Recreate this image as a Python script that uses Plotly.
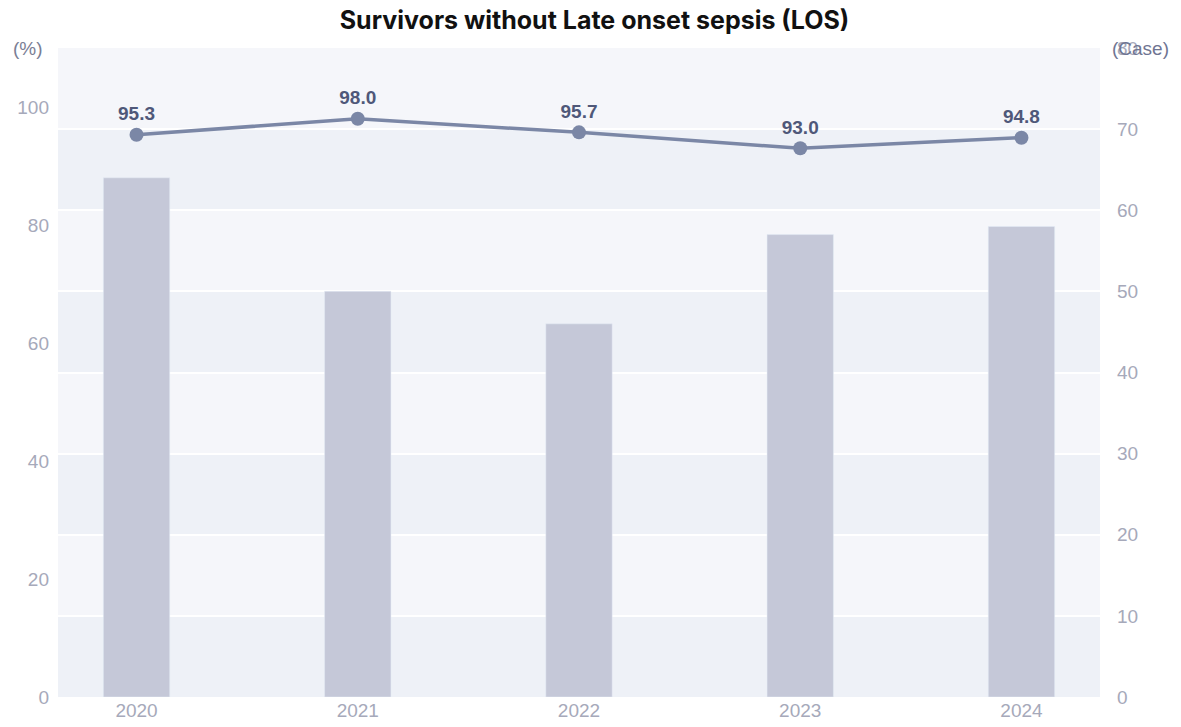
import plotly.graph_objects as go

years = ["2020", "2021", "2022", "2023", "2024"]
cases = [64, 50, 46, 57, 58]
survival_pct = [95.3, 98.0, 95.7, 93.0, 94.8]
pct_ticks = [0, 20, 40, 60, 80, 100]
case_ticks = [0, 10, 20, 30, 40, 50, 60, 70, 80]

fig = go.Figure()

# alternating background bands on the case axis
for i in range(len(case_ticks) - 1):
    fig.add_shape(
        type="rect", xref="paper", yref="y2",
        x0=0, x1=1, y0=case_ticks[i], y1=case_ticks[i + 1],
        fillcolor="#eef1f7" if i % 2 == 0 else "#f5f6fa",
        line_width=0, layer="below",
    )

fig.add_trace(go.Bar(
    x=years, y=cases, yaxis="y2",
    marker_color="#c5c8d8", width=0.3,
    hoverinfo="y",
))

fig.add_trace(go.Scatter(
    x=years, y=survival_pct, yaxis="y",
    mode="lines+markers+text",
    line=dict(color="#7b87a6", width=3.5),
    marker=dict(size=14, color="#7b87a6"),
    text=[f"{v:.1f}" for v in survival_pct],
    textposition="top center",
    textfont=dict(size=19, color="#4f5879", family="Liberation Sans"),
    texttemplate="<b>%{text}</b>",
))

# page body adds 8px offset, so figure is sized/margined to compensate
fig.update_layout(
    width=1173, height=719,
    margin=dict(l=50, r=81, t=40, b=30),
    paper_bgcolor="white", plot_bgcolor="rgba(0,0,0,0)",
    showlegend=False,
    font=dict(family="Liberation Sans", color="#a6a9ba", size=19),
    title=dict(
        text="<b>Survivors without Late onset sepsis (LOS)</b>",
        x=0.5, xanchor="center", y=0.983, yanchor="middle",
        font=dict(family="Inter", size=25, color="#111111"),
    ),
    xaxis=dict(
        type="category", range=[-0.355, 4.355], automargin=False,
        showgrid=False, zeroline=False, ticks="",
        tickfont=dict(size=19, color="#a6a9ba"),
    ),
    yaxis=dict(
        range=[0, 110], tickvals=pct_ticks, automargin=False,
        showgrid=False, zeroline=False,
        ticklabelstandoff=8,
    ),
    yaxis2=dict(
        overlaying="y", side="right", range=[0, 80], automargin=False,
        tickvals=case_ticks, showgrid=True, gridcolor="white", gridwidth=2,
        zeroline=False, ticklabelstandoff=16,
    ),
)

fig.add_annotation(text="(%)", xref="paper", yref="paper", x=-0.0288, y=1.0,
                   xanchor="center", yanchor="middle", showarrow=False,
                   font=dict(size=19, color="#7a7e95"))
fig.add_annotation(text="(Case)", xref="paper", yref="paper", x=1.0384, y=1.0,
                   xanchor="center", yanchor="middle", showarrow=False,
                   font=dict(size=19, color="#6f7592"))

fig.write_html("out.html")
